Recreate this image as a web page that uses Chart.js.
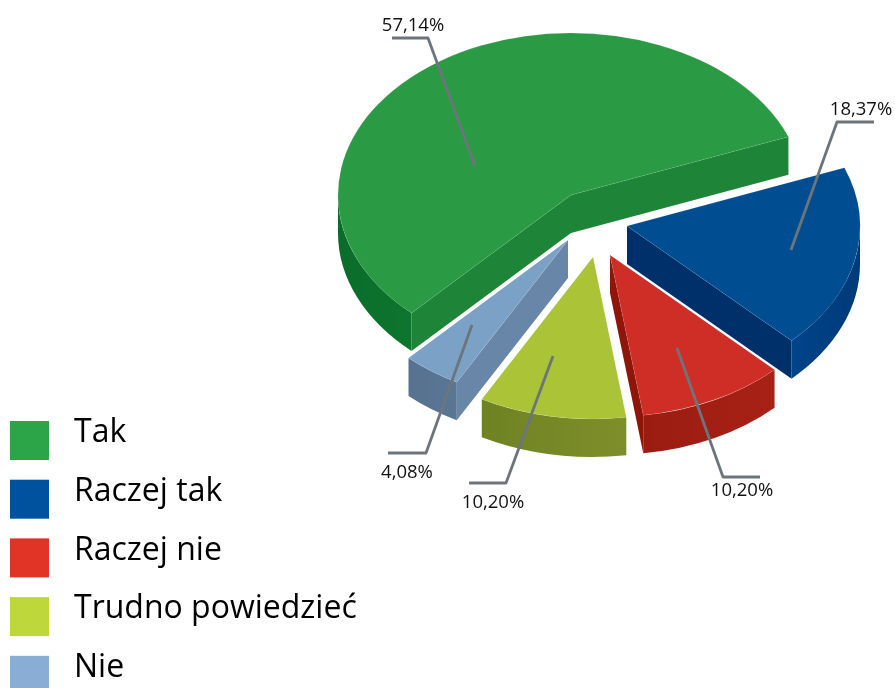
<!DOCTYPE html>
<html>
<head>
<meta charset="utf-8">
<script src="https://cdn.jsdelivr.net/npm/chart.js@4"></script>
<style>
  html, body { margin: 0; padding: 0; background: #fff; overflow: hidden; }
  canvas { display: block; }
</style>
</head>
<body>
<canvas id="pie" width="895" height="688"></canvas>
<script>
const categories = ["Tak", "Raczej tak", "Raczej nie", "Trudno powiedzieć", "Nie"];
const shares = [57.14, 18.37, 10.20, 10.20, 4.08];

const topColors = ["#2a9b44", "#004d91", "#cf2e26", "#abc337", "#7ba1c7"];
const legendColors = ["#2ca548", "#00529f", "#e13326", "#bed73a", "#8aadd6"];
const cutColors = ["#1e8438", "#003069", "#8f1509", "#738522", "#6886a8"];
const rimColors = [
    ["#0a6c2a", "#0d762e"],
    ["#00448a", "#003a78"],
    ["#9a1c11", "#a82116"],
    ["#6f8223", "#7e8e2a"],
    ["#56728f", "#5a7695"]
];

// where each exploded slice's apex ends up on the page
const apexes = [[571, 195], [627, 226], [610, 255], [593, 257], [568, 240]];
const SQUASH = 0.695;
const DEPTH = 38;

// leader lines: anchor on slice, elbow, end; then label centre
const leaders = [
    [[475, 166], [428, 38], [392, 38]],
    [[791, 250], [837, 122], [874, 122]],
    [[677, 348], [723, 477], [760, 477]],
    [[553, 356], [506, 483], [469, 483]],
    [[472, 325], [426, 453], [388, 453]]
];
const labelSpots = [[413, 26], [861, 110], [742, 491], [493, 503], [407, 473]];

function projected(arc, apex, angle) {
    return [
        apex[0] + Math.cos(angle) * arc.outerRadius,
        apex[1] + Math.sin(angle) * arc.outerRadius * SQUASH
    ];
}

function drawCut(ctx, arc, apex, angle, color) {
    const p = projected(arc, apex, angle);
    ctx.fillStyle = color;
    ctx.beginPath();
    ctx.moveTo(apex[0], apex[1]);
    ctx.lineTo(p[0], p[1]);
    ctx.lineTo(p[0], p[1] + DEPTH);
    ctx.lineTo(apex[0], apex[1] + DEPTH);
    ctx.closePath();
    ctx.fill();
}

function drawRim(ctx, arc, apex, colors) {
    // only the part of the outer wall that faces the viewer
    const turn = Math.PI * 2;
    const k = Math.floor(arc.startAngle / turn);
    const lo = arc.startAngle - k * turn;
    const hi = arc.endAngle - k * turn;
    const spans = [[lo, Math.min(hi, Math.PI)], [Math.max(lo, turn), Math.min(hi, turn + Math.PI)]];
    spans.forEach(([a, b]) => {
        if (b <= a) return;
        const pa = projected(arc, apex, a);
        const pb = projected(arc, apex, b);
        const grad = ctx.createLinearGradient(Math.min(pa[0], pb[0]), 0, Math.max(pa[0], pb[0]), 0);
        grad.addColorStop(0, colors[0]);
        grad.addColorStop(1, colors[1]);
        ctx.fillStyle = grad;
        ctx.beginPath();
        ctx.ellipse(apex[0], apex[1], arc.outerRadius, arc.outerRadius * SQUASH, 0, a, b);
        ctx.ellipse(apex[0], apex[1] + DEPTH, arc.outerRadius, arc.outerRadius * SQUASH, 0, b, a, true);
        ctx.closePath();
        ctx.fill();
    });
}

const tiltedPie = {
    id: "tiltedPie",
    beforeDatasetDraw(chart) {
        const ctx = chart.ctx;
        chart.getDatasetMeta(0).data.forEach((arc, i) => {
            const apex = apexes[i];
            ctx.save();
            drawRim(ctx, arc, apex, rimColors[i]);
            if (Math.cos(arc.startAngle) < 0) drawCut(ctx, arc, apex, arc.startAngle, cutColors[i]);
            if (Math.cos(arc.endAngle) > 0) drawCut(ctx, arc, apex, arc.endAngle, cutColors[i]);
            ctx.translate(apex[0], apex[1]);
            ctx.scale(1, SQUASH);
            ctx.translate(-arc.x, -arc.y);
            arc.draw(ctx);
            ctx.restore();
        });
        return false;
    },
    afterDraw(chart) {
        const ctx = chart.ctx;
        ctx.save();
        // leaders + percent labels
        ctx.strokeStyle = "#6d757c";
        ctx.lineWidth = 2.8;
        ctx.lineJoin = "round";
        leaders.forEach(line => {
            ctx.beginPath();
            line.forEach((p, n) => n ? ctx.lineTo(p[0], p[1]) : ctx.moveTo(p[0], p[1]));
            ctx.stroke();
        });
        ctx.fillStyle = "#111";
        ctx.font = "18.5px 'Open Sans'";
        ctx.textAlign = "center";
        ctx.textBaseline = "middle";
        shares.forEach((v, i) => {
            ctx.fillText(v.toFixed(2).replace(".", ",") + "%", labelSpots[i][0], labelSpots[i][1]);
        });
        // legend sits bottom left, the last box runs off the page
        ctx.textAlign = "left";
        ctx.font = "32px 'Open Sans'";
        chart.data.labels.forEach((name, i) => {
            const y = 421 + i * 58.7;
            ctx.fillStyle = legendColors[i];
            ctx.fillRect(10, y, 39, 39);
            ctx.fillStyle = "#000";
            ctx.fillText(name, 74, y + 12);
        });
        ctx.restore();
    }
};

new Chart(document.getElementById("pie"), {
    type: "pie",
    data: {
        labels: categories,
        datasets: [{
            data: shares,
            backgroundColor: topColors,
            borderColor: "rgba(255,255,255,0.1)",
            borderWidth: 1
        }]
    },
    options: {
        responsive: false,
        animation: false,
        rotation: 223.2,
        radius: 233,
        plugins: {
            legend: { display: false },
            tooltip: { enabled: false }
        }
    },
    plugins: [tiltedPie]
});
</script>
</body>
</html>
